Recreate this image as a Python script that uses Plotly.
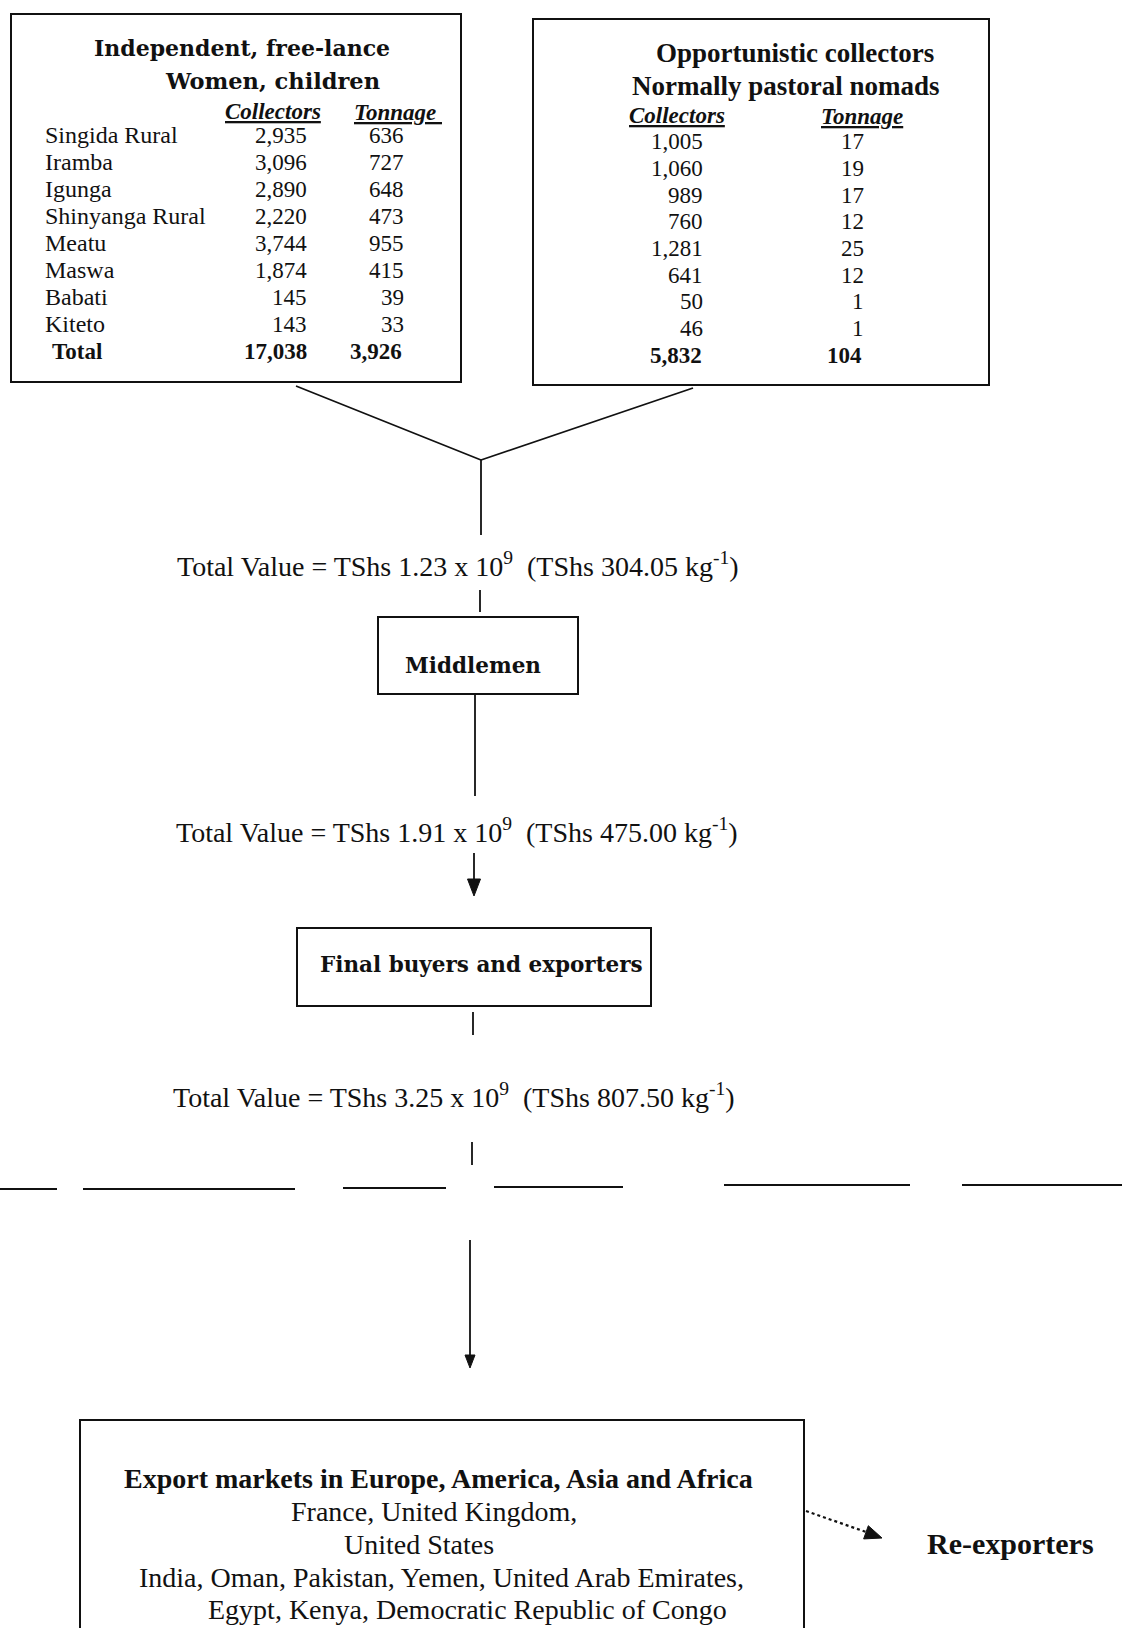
import math
import plotly.graph_objects as go

# ---------------- data ----------------
districts = ["Singida Rural", "Iramba", "Igunga", "Shinyanga Rural", "Meatu",
             "Maswa", "Babati", "Kiteto"]
freelance_collectors = [2935, 3096, 2890, 2220, 3744, 1874, 145, 143]
freelance_tonnage = [636, 727, 648, 473, 955, 415, 39, 33]
freelance_totals = [17038, 3926]
nomad_collectors = [1005, 1060, 989, 760, 1281, 641, 50, 46]
nomad_tonnage = [17, 19, 17, 12, 25, 12, 1, 1]
nomad_totals = [5832, 104]
stage_values = ["1.23", "1.91", "3.25"]          # TShs x 10^9
stage_unit_prices = ["304.05", "475.00", "807.50"]  # TShs per kg
export_lines = ["<b>Export markets in Europe, America, Asia and Africa</b>",
                "France, United Kingdom,",
                "United States",
                "India, Oman, Pakistan, Yemen, United Arab Emirates,",
                "Egypt, Kenya, Democratic Republic of Congo"]

# ---------------- layout constants ----------------
W, H = 1122, 1628
SERIF = "Liberation Serif"
WIDE = "DejaVu Serif"
BLACK = "#111111"

fig = go.Figure()
shapes = []
ann = []


def box(x0, y0, x1, y1, w=2):
    shapes.append(dict(type="rect", x0=x0, y0=y0, x1=x1, y1=y1,
                       line=dict(color=BLACK, width=w), fillcolor="rgba(0,0,0,0)"))


def line(x0, y0, x1, y1, w=1.8, dash="solid"):
    shapes.append(dict(type="line", x0=x0, y0=y0, x1=x1, y1=y1,
                       line=dict(color=BLACK, width=w, dash=dash)))


def head(x0, y0, x1, y1, length=16, half=6):
    """Filled triangular arrowhead at (x1, y1) pointing away from (x0, y0)."""
    dx, dy = x1 - x0, y1 - y0
    n = math.hypot(dx, dy)
    ux, uy = dx / n, dy / n
    bx, by = x1 - ux * length, y1 - uy * length
    px, py = -uy * half, ux * half
    path = (f"M {x1},{y1} L {bx + px},{by + py} L {bx - px},{by - py} Z")
    shapes.append(dict(type="path", path=path, fillcolor=BLACK,
                       line=dict(color=BLACK, width=1)))


def text(x, y, s, size=22, family=SERIF, xanchor="center"):
    ann.append(dict(x=x, y=y, text=s, showarrow=False, xref="x", yref="y",
                    xanchor=xanchor, yanchor="middle",
                    font=dict(family=family, size=size, color=BLACK)))


# ---- left box (free-lance collectors) ----
box(11, 14, 461, 382)
text(242, 48, "<b>Independent, free-lance</b>", 22, WIDE)
text(272, 81, "<b>Women, children</b>", 22.5, WIDE)
text(273, 111, "<b><i><u>Collectors</u></i></b>", 23)
text(398, 112, "<b><i><u>Tonnage </u></i></b>", 23)
row_y = [135, 162, 189, 216, 243, 270, 297, 324]
for i, d in enumerate(districts):
    y = row_y[i]
    text(43, y, d, 24, SERIF, "left")
    text(309, y, f"{freelance_collectors[i]:,}", 23, SERIF, "right")
    text(406, y, f"{freelance_tonnage[i]:,}", 23, SERIF, "right")
text(50, 351, "<b>Total</b>", 23, SERIF, "left")
text(309, 351, f"<b>{freelance_totals[0]:,}</b>", 23, SERIF, "right")
text(404, 351, f"<b>{freelance_totals[1]:,}</b>", 23, SERIF, "right")

# ---- right box (nomads) ----
box(533, 19, 989, 385)
text(795, 53, "<b>Opportunistic collectors</b>", 27)
text(786, 86, "<b>Normally pastoral nomads</b>", 27)
text(677, 115, "<b><i><u>Collectors</u></i></b>", 23)
text(862, 116, "<b><i><u>Tonnage</u></i></b>", 23)
row_y2 = [141, 168, 195, 221, 248, 275, 301, 328]
for i in range(len(nomad_collectors)):
    y = row_y2[i]
    text(705, y, f"{nomad_collectors[i]:,}", 23, SERIF, "right")
    text(866, y, f"{nomad_tonnage[i]:,}", 23, SERIF, "right")
text(704, 355, f"<b>{nomad_totals[0]:,}</b>", 23, SERIF, "right")
text(864, 355, f"<b>{nomad_totals[1]:,}</b>", 23, SERIF, "right")

# ---- junction ----
line(296, 386, 481, 460)
line(693, 388, 481, 460)
line(481, 460, 481, 535)


def value_label(i, x, y):
    s = (f"Total Value = TShs {stage_values[i]} x 10<sup>9</sup>  "
         f"(TShs {stage_unit_prices[i]} kg<sup>-1</sup>)")
    text(x, y, s, 28, SERIF)


value_label(0, 458, 564)
line(480, 590, 480, 612)

# middlemen
box(378, 617, 578, 694)
text(473, 665, "<b>Middlemen</b>", 21.5, WIDE)
line(475, 694, 475, 796)

value_label(1, 457, 830)
line(474, 853, 474, 882)
head(474, 853, 474, 896, length=17, half=6.5)

# final buyers
box(297, 928, 651, 1006)
text(481, 964, "<b>Final buyers and exporters</b>", 21.5, WIDE)
line(473, 1012, 473, 1035)

value_label(2, 454, 1095)
line(472, 1142, 472, 1165)

# dashed boundary
seg_x = [(0, 57), (83, 295), (343, 446), (494, 623), (724, 910), (962, 1122)]
seg_y = [1189, 1189, 1188, 1187, 1185, 1185]
for (a, b), yy in zip(seg_x, seg_y):
    line(a, yy, b, yy, w=2)

line(470, 1240, 470, 1358)
head(470, 1240, 470, 1368, length=13, half=5)

# export markets box
box(80, 1420, 804, 1640)
ex_y = [1478, 1511, 1544, 1577, 1609]
ex_x = [438, 434, 419, 441, 467]
for s, x, y in zip(export_lines, ex_x, ex_y):
    text(x, y, s, 28, SERIF)

# dotted arrow to re-exporters
line(806, 1511, 866, 1532, w=2.2, dash="dot")
head(806, 1511, 882, 1538, length=17, half=7)
text(1010, 1543, "<b>Re-exporters</b>", 30, SERIF)

fig.update_layout(
    width=W, height=H, margin=dict(l=0, r=0, t=0, b=0),
    paper_bgcolor="white", plot_bgcolor="white",
    xaxis=dict(range=[0, W], visible=False, fixedrange=True),
    yaxis=dict(range=[H, 0], visible=False, fixedrange=True),
    shapes=shapes, annotations=ann, showlegend=False,
)
fig.write_html("out.html",
               config={"displayModeBar": False, "staticPlot": True},
               post_script="document.body.style.margin='0';"
                           "document.body.style.overflow='hidden';")
